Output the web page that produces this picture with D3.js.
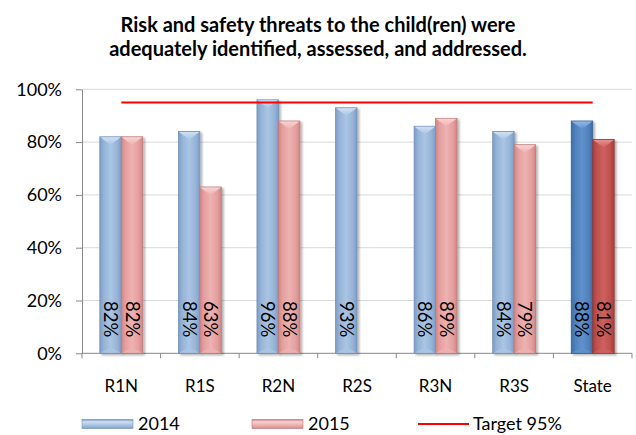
<!DOCTYPE html>
<html>
<head>
<meta charset="utf-8">
<script src="https://cdn.jsdelivr.net/npm/d3@7"></script>
<style>
  html, body { margin: 0; padding: 0; background: #fff; }
  svg { display: block; font-family: Lato, "Open Sans", sans-serif; }
</style>
</head>
<body>
<svg id="chart" width="636" height="435"></svg>
<script>
// Regions reviewed, and share of cases rated as a strength
const categories = ["R1N", "R1S", "R2N", "R2S", "R3N", "R3S", "State"];
const series = ["2014", "2015"];
const values2014 = [0.82, 0.84, 0.96, 0.93, 0.86, 0.84, 0.88];
const values2015 = [0.82, 0.63, 0.88, null, 0.89, 0.79, 0.81];
const targetValue = 0.95;
const targetLabel = "Target 95%";
const yTicks = [0, 0.2, 0.4, 0.6, 0.8, 1.0];
const titleLines = [
  "Risk and safety threats to the child(ren) were",
  "adequately identified, assessed, and addressed."
];

const svg = d3.select("#chart");
const margin = { left: 82, right: 4, top: 89.3, bottom: 81.7 };
const W = 636, H = 435;

const x = d3.scaleBand().domain(categories).range([margin.left, W - margin.right]).paddingInner(0).paddingOuter(0);
const x1 = d3.scaleBand().domain(series).range([0, x.bandwidth()]).paddingInner(0).paddingOuter(0.83);
const y = d3.scaleLinear().domain([0, 1]).range([H - margin.bottom, margin.top]);

// Palettes: [edge, base, highlight, stroke, cap]
const palettes = {
  b:  ["#7D9CC5", "#95B3D7", "#AAC5E4", "#7391BA", "#CFE0F3"],
  r:  ["#CF8685", "#E49E9D", "#EDB2B1", "#BF7B7A", "#F7D3D2"],
  bs: ["#3D6BA3", "#4F81BD", "#6191CC", "#385F91", "#92B8E6"],
  rs: ["#A43F3C", "#C0504D", "#CD615E", "#923734", "#E8928F"]
};

const defs = svg.append("defs");
Object.entries(palettes).forEach(([k, p]) => {
  const g = defs.append("linearGradient").attr("id", "g-" + k).attr("x1", 0).attr("x2", 1).attr("y1", 0).attr("y2", 0);
  [[0, p[0]], [0.18, p[1]], [0.5, p[2]], [0.82, p[1]], [1, p[0]]].forEach(([o, c]) =>
    g.append("stop").attr("offset", o).attr("stop-color", c));
  const c = defs.append("linearGradient").attr("id", "c-" + k).attr("x1", 0).attr("x2", 0).attr("y1", 0).attr("y2", 1);
  c.append("stop").attr("offset", 0).attr("stop-color", p[4]);
  c.append("stop").attr("offset", 1).attr("stop-color", p[2]);
  const l = defs.append("linearGradient").attr("id", "l-" + k).attr("x1", 0).attr("x2", 0).attr("y1", 0).attr("y2", 1);
  [[0, p[3]], [0.25, p[4]], [0.6, p[2]], [0.85, p[1]], [1, p[3]]].forEach(([o, col]) =>
    l.append("stop").attr("offset", o).attr("stop-color", col));
});
const shadow = defs.append("filter").attr("id", "shadow").attr("x", "-20%").attr("y", "-5%").attr("width", "150%").attr("height", "115%");
shadow.append("feDropShadow").attr("dx", 2).attr("dy", 1.5).attr("stdDeviation", 1.2).attr("flood-color", "#000").attr("flood-opacity", 0.3);

// Gridlines
svg.append("g").selectAll("line").data(yTicks.slice(1)).join("line")
  .attr("x1", margin.left).attr("x2", W - margin.right)
  .attr("y1", d => y(d)).attr("y2", d => y(d))
  .attr("stroke", "#D9D9D9").attr("stroke-width", 1);

// Y axis
const yAxis = svg.append("g").attr("transform", `translate(${margin.left},0)`)
  .call(d3.axisLeft(y).tickValues(yTicks).tickFormat(d3.format(".0%")).tickSize(6).tickSizeOuter(0).tickPadding(14));
yAxis.select(".domain").attr("stroke", "#898989");
yAxis.selectAll(".tick line").attr("stroke", "#898989");
yAxis.selectAll("text").attr("font-size", 18).attr("fill", "#000").attr("font-family", "Lato");

// X axis: ticks at category boundaries
const xAxisG = svg.append("g").attr("transform", `translate(0,${y(0)})`);
xAxisG.append("line").attr("x1", margin.left).attr("x2", W - margin.right).attr("stroke", "#898989");
const bounds = categories.map(c => x(c)).concat([x(categories[categories.length - 1]) + x.bandwidth()]);
xAxisG.selectAll("line.tk").data(bounds).join("line").attr("class", "tk")
  .attr("x1", d => d).attr("x2", d => d).attr("y1", 0).attr("y2", 5).attr("stroke", "#898989");
xAxisG.selectAll("text").data(categories).join("text")
  .attr("x", d => x(d) + x.bandwidth() / 2).attr("y", 39)
  .attr("text-anchor", "middle").attr("font-size", 17).attr("fill", "#000").text(d => d);

// Bars
const rows = [];
categories.forEach((c, i) => {
  const state = c === "State";
  if (values2014[i] != null) rows.push({ c, s: "2014", v: values2014[i], p: state ? "bs" : "b" });
  if (values2015[i] != null) rows.push({ c, s: "2015", v: values2015[i], p: state ? "rs" : "r" });
});

const bars = svg.append("g").selectAll("g").data(rows).join("g");
bars.each(function (d) {
  const g = d3.select(this);
  const x0 = x(d.c) + x1(d.s), w = x1.bandwidth();
  const top = y(d.v), base = y(0);
  const pal = palettes[d.p];
  g.append("rect").attr("x", x0).attr("y", top).attr("width", w).attr("height", base - top)
    .attr("fill", `url(#g-${d.p})`).attr("stroke", pal[3]).attr("stroke-width", 0.8)
    .attr("filter", "url(#shadow)");
  g.append("path")
    .attr("d", `M${x0 + 0.5},${top + 0.5}L${x0 + w - 0.5},${top + 0.5}L${x0 + w / 2},${top + 8}Z`)
    .attr("fill", `url(#c-${d.p})`);
  g.append("path")
    .attr("d", `M${x0 + 0.5},${base - 0.5}L${x0 + w - 0.5},${base - 0.5}L${x0 + w / 2},${base - 6}Z`)
    .attr("fill", pal[2]).attr("opacity", 0.8);
  g.append("text")
    .attr("transform", `translate(${x0 + w / 2},${base - 16}) rotate(90)`)
    .attr("text-anchor", "end").attr("dy", "0.35em")
    .attr("font-size", 18.5).attr("fill", "#000")
    .text(d3.format(".0%")(d.v));
});

// Target line from first to last category centre
const xc = c => x(c) + x.bandwidth() / 2;
svg.append("line")
  .attr("x1", xc(categories[0])).attr("x2", xc(categories[categories.length - 1]))
  .attr("y1", y(targetValue)).attr("y2", y(targetValue))
  .attr("stroke", "#FF0000").attr("stroke-width", 2);

// Title
svg.append("g").selectAll("text").data(titleLines).join("text")
  .attr("x", 318).attr("y", (d, i) => 31.5 + i * 24.5)
  .attr("text-anchor", "middle").attr("font-weight", "bold").attr("font-size", 20).attr("fill", "#000")
  .text(d => d);

// Legend
const legend = svg.append("g");
const ly = 424;
[["2014", "b", 82], ["2015", "r", 252]].forEach(([label, k, lx]) => {
  legend.append("rect").attr("x", lx).attr("y", ly - 4.5).attr("width", 51).attr("height", 9)
    .attr("fill", `url(#l-${k})`).attr("stroke", palettes[k][3]).attr("stroke-width", 0.6);
  legend.append("text").attr("x", lx + 56).attr("y", ly).attr("dy", "0.35em")
    .attr("font-size", 18).attr("fill", "#000").text(label);
});
legend.append("line").attr("x1", 418).attr("x2", 469).attr("y1", ly).attr("y2", ly)
  .attr("stroke", "#FF0000").attr("stroke-width", 2);
legend.append("text").attr("x", 473).attr("y", ly).attr("dy", "0.35em")
  .attr("font-size", 18).attr("fill", "#000").text(targetLabel);
</script>
</body>
</html>
